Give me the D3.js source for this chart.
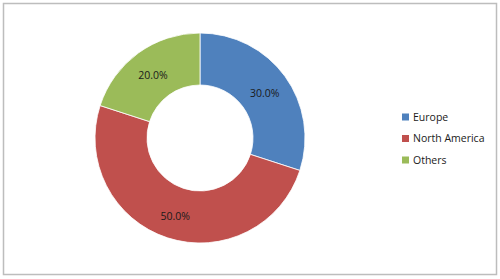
<!DOCTYPE html>
<html>
<head>
<meta charset="utf-8">
<script src="https://cdn.jsdelivr.net/npm/d3@7"></script>
<style>
  body { margin: 0; background: #fff; }
  svg { display: block; font-family: "Open Sans", "Liberation Sans", sans-serif; }
</style>
</head>
<body>
<script>
const regions = ["Europe", "North America", "Others"];
const shares = [30, 50, 20];
const colors = ["#4F81BD", "#C0504D", "#9BBB59"];

const width = 500, height = 279;
const svg = d3.select("body").append("svg")
    .attr("width", width)
    .attr("height", height);

// chart frame
svg.append("rect")
    .attr("x", 3.5).attr("y", 3.5)
    .attr("width", 493).attr("height", 271)
    .attr("fill", "#fff")
    .attr("stroke", "#bdbdbd")
    .attr("stroke-width", 1.5);

const cx = 200, cy = 138, rOuter = 105, rInner = 53;

const color = d3.scaleOrdinal().domain(regions).range(colors);
const pie = d3.pie().sort(null).value(d => d.value);
const arc = d3.arc().innerRadius(rInner).outerRadius(rOuter);
const labelArc = d3.arc().innerRadius(80).outerRadius(80);

const data = regions.map((r, i) => ({ name: r, value: shares[i] }));
const total = d3.sum(shares);

const g = svg.append("g").attr("transform", `translate(${cx},${cy})`);

g.selectAll("path")
    .data(pie(data))
    .join("path")
    .attr("d", arc)
    .attr("fill", d => color(d.data.name))
    .attr("stroke", "#fff")
    .attr("stroke-width", 0.8);

g.selectAll("text")
    .data(pie(data))
    .join("text")
    .attr("transform", d => `translate(${labelArc.centroid(d)})`)
    .attr("text-anchor", "middle")
    .attr("dy", "0.55em")
    .attr("font-size", 10.5)
    .attr("fill", "#1a1a1a")
    .text(d => d3.format(".1f")(d.data.value / total * 100) + "%");

// legend
const legendY = d3.scalePoint().domain(regions).range([117, 160]);
const legend = svg.append("g");
const items = legend.selectAll("g")
    .data(regions)
    .join("g")
    .attr("transform", d => `translate(402,${legendY(d)})`);

items.append("rect")
    .attr("x", 0).attr("y", -3.5)
    .attr("width", 7).attr("height", 7)
    .attr("fill", d => color(d));

items.append("text")
    .attr("x", 11)
    .attr("dy", "0.35em")
    .attr("font-size", 10.5)
    .attr("fill", "#1a1a1a")
    .text(d => d);
</script>
</body>
</html>
